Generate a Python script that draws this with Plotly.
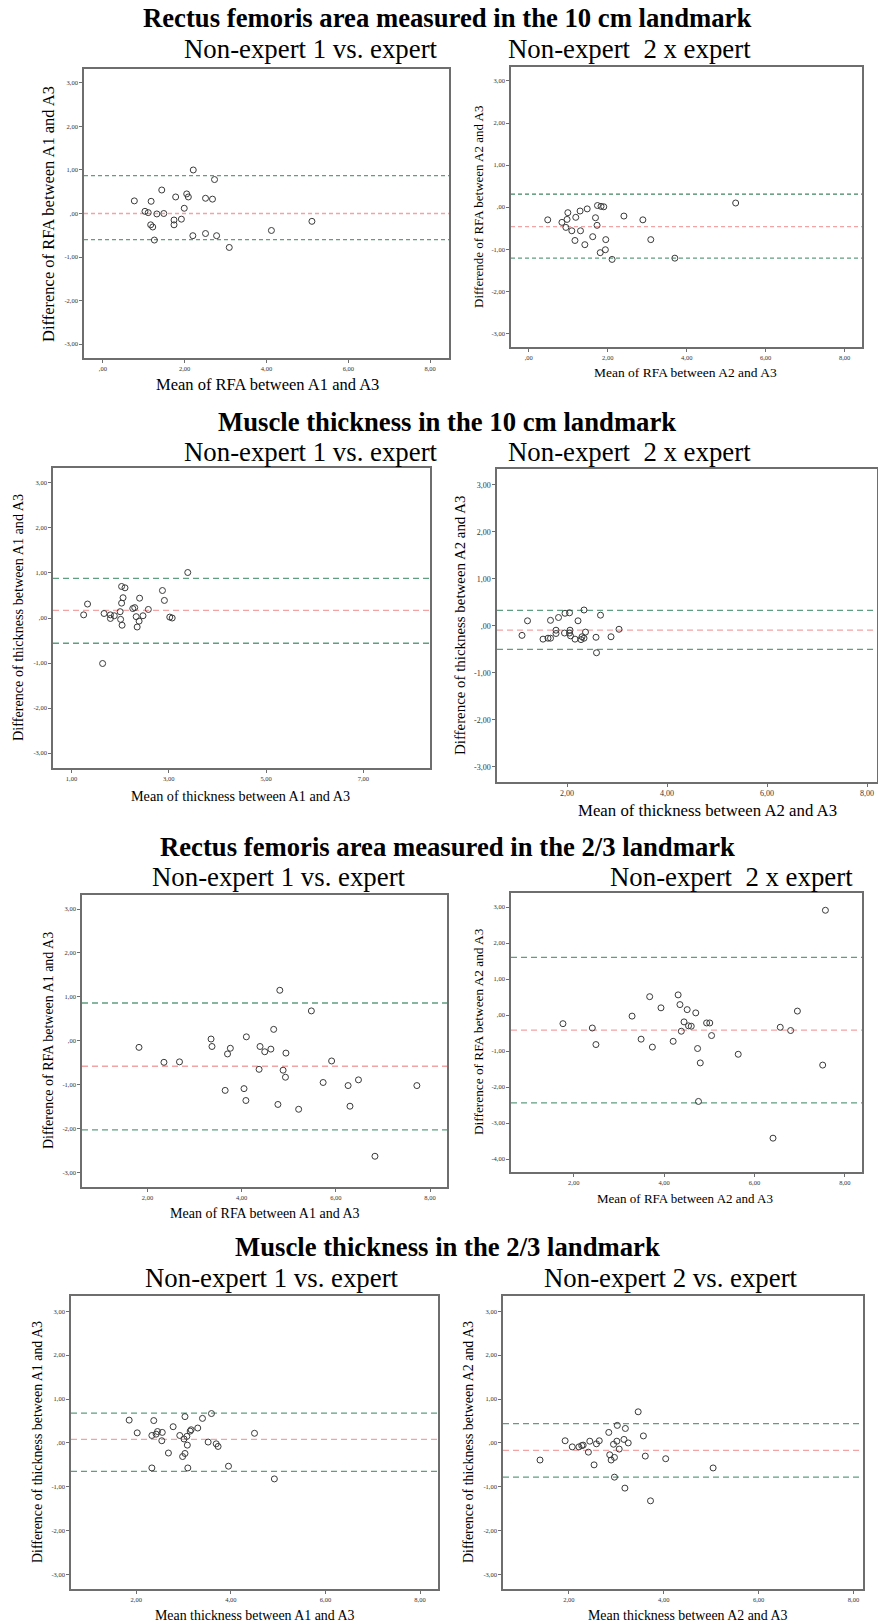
import plotly.graph_objects as go

W, H = 878, 1624

# ---------------- DATA ----------------
# Panel 1: RFA 10 cm, non-expert 1 vs expert
p1_x = [0.77, 1.03, 1.11, 1.18, 1.17, 1.22, 1.26, 1.32, 1.44, 1.49, 1.74, 1.74, 1.78, 1.92,
        1.99, 2.05, 2.09, 2.21, 2.20, 2.51, 2.51, 2.68, 2.73, 2.78, 3.09, 4.12, 5.11]
p1_y = [0.29, 0.05, 0.02, 0.28, -0.26, -0.31, -0.61, -0.01, 0.54, 0.00, -0.15, -0.26, 0.38, -0.13,
        0.12, 0.45, 0.38, 1.00, -0.51, 0.35, -0.46, 0.33, 0.78, -0.51, -0.78, -0.39, -0.18]
p1_lines = [0.87, 0.00, -0.60]

# Panel 2: RFA 10 cm, non-expert 2 x expert
p2_x = [0.48, 0.84, 0.94, 0.97, 0.99, 1.09, 1.17, 1.19, 1.30, 1.31, 1.42, 1.48, 1.62, 1.69,
        1.73, 1.74, 1.81, 1.83, 1.90, 1.94, 1.95, 2.11, 2.41, 2.89, 3.09, 3.70, 5.24]
p2_y = [-0.30, -0.36, -0.48, -0.29, -0.13, -0.56, -0.79, -0.24, -0.09, -0.56, -0.89, -0.04, -0.70, -0.25,
        -0.43, 0.04, -1.08, 0.02, 0.01, -1.01, -0.77, -1.24, -0.21, -0.30, -0.77, -1.21, 0.10]
p2_lines = [0.31, -0.46, -1.21]

# Panel 3: thickness 10 cm, non-expert 1 vs expert
p3_x = [1.25, 1.33, 1.64, 1.67, 1.80, 1.80, 1.88, 2.00, 2.01, 2.03, 2.03, 2.04, 2.06, 2.10,
        2.26, 2.30, 2.33, 2.35, 2.39, 2.40, 2.47, 2.58, 2.87, 2.91, 3.02, 3.07, 3.39]
p3_y = [0.07, 0.31, -1.01, 0.10, 0.07, -0.01, 0.05, 0.14, -0.03, 0.70, 0.33, -0.16, 0.45, 0.67,
        0.21, 0.23, 0.03, -0.20, -0.07, 0.44, 0.05, 0.19, 0.61, 0.39, 0.02, 0.00, 1.01]
p3_lines = [0.88, 0.17, -0.56]

# Panel 4: thickness 10 cm, non-expert 2 x expert
p4_x = [1.10, 1.21, 1.52, 1.62, 1.67, 1.67, 1.78, 1.78, 1.83, 1.95, 1.96, 2.05, 2.05, 2.06,
        2.07, 2.16, 2.22, 2.28, 2.30, 2.34, 2.34, 2.37, 2.58, 2.59, 2.67, 2.88, 3.04]
p4_y = [-0.20, 0.11, -0.28, -0.26, -0.26, 0.12, -0.16, -0.09, 0.18, -0.15, 0.27, -0.15, 0.28, -0.09,
        -0.21, -0.28, 0.11, -0.29, -0.23, -0.26, 0.34, -0.13, -0.24, -0.57, 0.23, -0.23, -0.07]
p4_lines = [0.33, -0.09, -0.50]

# Panel 5: RFA 2/3, non-expert 1 vs expert
p5_x = [1.82, 2.35, 2.68, 3.35, 3.37, 3.65, 3.70, 3.76, 4.05, 4.09, 4.10, 4.37, 4.39, 4.49, 4.62,
        4.68, 4.77, 4.81, 4.88, 4.93, 4.94, 5.21, 5.48, 5.73, 5.91, 6.26, 6.30, 6.48, 6.83, 7.72]
p5_y = [-0.15, -0.49, -0.48, 0.04, -0.13, -1.13, -0.30, -0.17, -1.09, -1.36, 0.09, -0.65, -0.13, -0.25, -0.19,
        0.26, -1.45, 1.15, -0.67, -0.83, -0.28, -1.56, 0.68, -0.95, -0.46, -1.02, -1.49, -0.89, -2.63, -1.02]
p5_lines = [0.86, -0.58, -2.03]

# Panel 6: RFA 2/3, non-expert 2 x expert
p6_x = [1.76, 2.41, 2.49, 3.29, 3.49, 3.68, 3.74, 3.93, 4.20, 4.31, 4.35, 4.38, 4.44, 4.51, 4.54,
        4.60, 4.70, 4.74, 4.76, 4.80, 4.94, 5.01, 5.05, 5.64, 6.41, 6.57, 6.80, 6.95, 7.51, 7.57]
p6_y = [-0.24, -0.36, -0.82, -0.03, -0.67, 0.51, -0.89, 0.20, -0.73, 0.56, 0.29, -0.45, -0.19, 0.15, -0.30,
        -0.31, 0.06, -0.93, -2.40, -1.33, -0.22, -0.22, -0.57, -1.09, -3.42, -0.34, -0.43, 0.11, -1.39, 2.91]
p6_lines = [1.60, -0.42, -2.44]

# Panel 7: thickness 2/3, non-expert 1 vs expert
p7_x = [1.85, 2.02, 2.33, 2.33, 2.37, 2.42, 2.45, 2.55, 2.54, 2.68, 2.78, 2.92, 2.98, 3.01, 3.03,
        3.03, 3.07, 3.08, 3.09, 3.14, 3.16, 3.30, 3.40, 3.52, 3.59, 3.69, 3.73, 3.95, 4.50, 4.92]
p7_y = [0.52, 0.23, 0.17, -0.57, 0.51, 0.20, 0.26, 0.24, 0.05, -0.23, 0.37, 0.17, -0.31, 0.09, 0.60,
        -0.24, 0.15, -0.05, -0.57, 0.27, 0.30, 0.34, 0.56, 0.02, 0.67, -0.02, -0.08, -0.53, 0.22, -0.82]
p7_lines = [0.68, 0.08, -0.65]

# Panel 8: thickness 2/3, non-expert 2 vs expert
p8_x = [1.39, 1.92, 2.07, 2.21, 2.27, 2.30, 2.41, 2.44, 2.53, 2.58, 2.64, 2.84, 2.86, 2.89, 2.94,
        2.96, 2.96, 3.01, 3.02, 3.06, 3.16, 3.18, 3.19, 3.25, 3.46, 3.57, 3.61, 3.72, 4.04, 5.04]
p8_y = [-0.39, 0.05, -0.09, -0.09, -0.06, -0.05, -0.21, 0.04, -0.50, -0.02, 0.05, 0.24, -0.27, -0.39, -0.03,
        -0.33, -0.78, 0.04, 0.40, -0.14, 0.08, -1.03, 0.33, 0.00, 0.71, 0.16, -0.30, -1.32, -0.36, -0.57]
p8_lines = [0.44, -0.17, -0.78]

# Tick labels
yt_vals = [3, 2, 1, 0, -1, -2, -3]
yt_text = ["3,00", "2,00", "1,00", ",00", "-1,00", "-2,00", "-3,00"]
yt6_vals = [3, 2, 1, 0, -1, -2, -3, -4]
yt6_text = ["3,00", "2,00", "1,00", ",00", "-1,00", "-2,00", "-3,00", "-4,00"]
xt_a_vals = [0, 2, 4, 6, 8]
xt_a_text = [",00", "2,00", "4,00", "6,00", "8,00"]
xt_b_vals = [1, 3, 5, 7]
xt_b_text = ["1,00", "3,00", "5,00", "7,00"]
xt_c_vals = [2, 4, 6, 8]
xt_c_text = ["2,00", "4,00", "6,00", "8,00"]

headings = [
    "Rectus femoris area measured in the 10 cm landmark",
    "Muscle thickness in the 10 cm landmark",
    "Rectus femoris area measured in the 2/3 landmark",
    "Muscle thickness in the 2/3 landmark",
]
subtitles = [
    "Non-expert 1 vs. expert", "Non-expert  2 x expert",
    "Non-expert 1 vs. expert", "Non-expert  2 x expert",
    "Non-expert 1 vs. expert", "Non-expert  2 x expert",
    "Non-expert 1 vs. expert", "Non-expert 2 vs. expert",
]
ytitles = [
    "Difference of RFA between A1 and A3",
    "Differende of RFA between A2 and A3",
    "Difference of thickness between A1 and A3",
    "Difference of thickness between A2 and A3",
    "Difference of RFA between A1 and A3",
    "Difference of RFA between A2 and A3",
    "Difference of thickness between A1 and A3",
    "Difference of thickness between A2 and A3",
]
xtitles = [
    "Mean of RFA between A1 and A3",
    "Mean of RFA between A2 and A3",
    "Mean of thickness between A1 and A3",
    "Mean of thickness between A2 and A3",
    "Mean of RFA between A1 and A3",
    "Mean of RFA between A2 and A3",
    "Mean thickness between A1 and A3",
    "Mean thickness between A2 and A3",
]

# ---------------- LAYOUT / STYLE ----------------
FONT = "Liberation Serif"
GREEN = "#5f9e80"
GREEN_DARK = "#3f8560"
RED = "#f3a3a3"
AXC = "#6e6e6e"

panels = [
    dict(x=p1_x, y=p1_y, lines=p1_lines, box=(84, 449, 69, 358), xr=(-0.46, 8.46), yr=(-3.32, 3.32),
         xt=(xt_a_vals, xt_a_text), yt=(yt_vals, yt_text), tf=6.5,
         yt_pos=(48, 214, 16.5), xt_pos=(267, 385, 16.5), dash="4px,3px", upc=GREEN),
    dict(x=p2_x, y=p2_y, lines=p2_lines, box=(511, 862, 67, 347), xr=(-0.45, 8.44), yr=(-3.32, 3.33),
         xt=(xt_a_vals, xt_a_text), yt=(yt_vals, yt_text), tf=6.5,
         yt_pos=(478, 207, 13), xt_pos=(685, 372, 13.5), dash="4px,3px", upc=GREEN_DARK),
    dict(x=p3_x, y=p3_y, lines=p3_lines, box=(53, 430, 468, 768), xr=(0.62, 8.37), yr=(-3.33, 3.33),
         xt=(xt_b_vals, xt_b_text), yt=(yt_vals, yt_text), tf=6.5,
         yt_pos=(18, 618, 14.2), xt_pos=(240, 796, 14.2), dash="6px,4px", upc=GREEN),
    dict(x=p4_x, y=p4_y, lines=p4_lines, box=(497, 877, 469, 782), xr=(0.6, 8.2), yr=(-3.32, 3.34),
         xt=(xt_c_vals, xt_c_text), yt=(yt_vals, yt_text), tf=8,
         yt_pos=(460, 626, 14.9), xt_pos=(707, 810, 16.8), dash="6px,4px", upc=GREEN),
    dict(x=p5_x, y=p5_y, lines=p5_lines, box=(82, 447, 895, 1187), xr=(0.61, 8.36), yr=(-3.33, 3.32),
         xt=(xt_c_vals, xt_c_text), yt=(yt_vals, yt_text), tf=6.5,
         yt_pos=(48, 1041, 14), xt_pos=(265, 1213, 14), dash="6px,4px", upc=GREEN),
    dict(x=p6_x, y=p6_y, lines=p6_lines, box=(511, 862, 893, 1172), xr=(0.61, 8.38), yr=(-4.36, 3.39),
         xt=(xt_c_vals, xt_c_text), yt=(yt6_vals, yt6_text), tf=6.5,
         yt_pos=(478, 1032, 13.3), xt_pos=(685, 1198, 13), dash="6px,4px", upc=GREEN),
    dict(x=p7_x, y=p7_y, lines=p7_lines, box=(71, 438, 1296, 1589), xr=(0.62, 8.38), yr=(-3.33, 3.35),
         xt=(xt_c_vals, xt_c_text), yt=(yt_vals, yt_text), tf=6.5,
         yt_pos=(37, 1442, 13.9), xt_pos=(254, 1615, 13.9), dash="6px,4px", upc=GREEN),
    dict(x=p8_x, y=p8_y, lines=p8_lines, box=(503, 863, 1296, 1589), xr=(0.61, 8.20), yr=(-3.33, 3.35),
         xt=(xt_c_vals, xt_c_text), yt=(yt_vals, yt_text), tf=6.5,
         yt_pos=(468, 1442, 13.9), xt_pos=(687, 1615, 13.9), dash="6px,4px", upc=GREEN),
]

heading_pos = [(447, 18), (447, 422), (447, 847), (447, 1247)]
subtitle_pos = [(311, 49), (629, 49), (311, 452), (629, 452),
                (279, 877), (731, 877), (272, 1278), (671, 1278)]
HEAD_SIZE = 26.7
SUB_SIZE = 26.8


def px(x):
    return x / W


def py(y):
    return 1 - y / H


fig = go.Figure()
layout = dict(
    width=W, height=H, margin=dict(l=0, r=0, t=0, b=0),
    paper_bgcolor="white", plot_bgcolor="white", showlegend=False,
    font=dict(family=FONT, color="black"),
)
shapes = []
annotations = []

for i, p in enumerate(panels):
    n = i + 1
    xa = "x" if n == 1 else f"x{n}"
    ya = "y" if n == 1 else f"y{n}"
    xkey = "xaxis" if n == 1 else f"xaxis{n}"
    ykey = "yaxis" if n == 1 else f"yaxis{n}"
    x0, x1, y0, y1 = p["box"]
    common = dict(showline=True, linecolor=AXC, linewidth=1.5, mirror=True, showgrid=False,
                  zeroline=False, ticks="outside", ticklen=3, tickwidth=1, tickcolor=AXC,
                  tickfont=dict(family=FONT, size=p["tf"], color="#333333"), fixedrange=True)
    layout[xkey] = dict(domain=[px(x0), px(x1)], range=list(p["xr"]), anchor=ya,
                        tickvals=p["xt"][0], ticktext=p["xt"][1], **common)
    layout[ykey] = dict(domain=[py(y1), py(y0)], range=list(p["yr"]), anchor=xa,
                        tickvals=p["yt"][0], ticktext=p["yt"][1], **common)
    # reference lines (upper LoA, mean, lower LoA)
    colors = [p["upc"], RED, GREEN]
    for val, c in zip(p["lines"], colors):
        shapes.append(dict(type="line", xref=f"{xa} domain", yref=ya, x0=0, x1=1, y0=val, y1=val,
                           line=dict(color=c, width=1.3, dash=p["dash"]), layer="below"))
    fig.add_trace(go.Scatter(x=p["x"], y=p["y"], xaxis=xa, yaxis=ya, mode="markers",
                             marker=dict(symbol="circle-open", size=6, color="#3a3a3a",
                                         line=dict(width=1, color="#3a3a3a")),
                             cliponaxis=False, hoverinfo="skip"))
    yx, yy, yf = p["yt_pos"]
    annotations.append(dict(text=ytitles[i], x=px(yx), y=py(yy), xref="paper", yref="paper",
                            showarrow=False, textangle=-90, xanchor="center", yanchor="middle",
                            font=dict(family=FONT, size=yf, color="black")))
    xx, xy, xf = p["xt_pos"]
    annotations.append(dict(text=xtitles[i], x=px(xx), y=py(xy), xref="paper", yref="paper",
                            showarrow=False, xanchor="center", yanchor="middle",
                            font=dict(family=FONT, size=xf, color="black")))

for t, (hx, hy) in zip(headings, heading_pos):
    annotations.append(dict(text=f"<b>{t}</b>", x=px(hx), y=py(hy), xref="paper", yref="paper",
                            showarrow=False, xanchor="center", yanchor="middle",
                            font=dict(family=FONT, size=HEAD_SIZE, color="black")))
for t, (sx, sy) in zip(subtitles, subtitle_pos):
    annotations.append(dict(text=t.replace("  ", "&nbsp; "), x=px(sx), y=py(sy), xref="paper", yref="paper",
                            showarrow=False, xanchor="center", yanchor="middle",
                            font=dict(family=FONT, size=SUB_SIZE, color="black")))

layout["shapes"] = shapes
layout["annotations"] = annotations
fig.update_layout(**layout)
fig.write_html("out.html")
